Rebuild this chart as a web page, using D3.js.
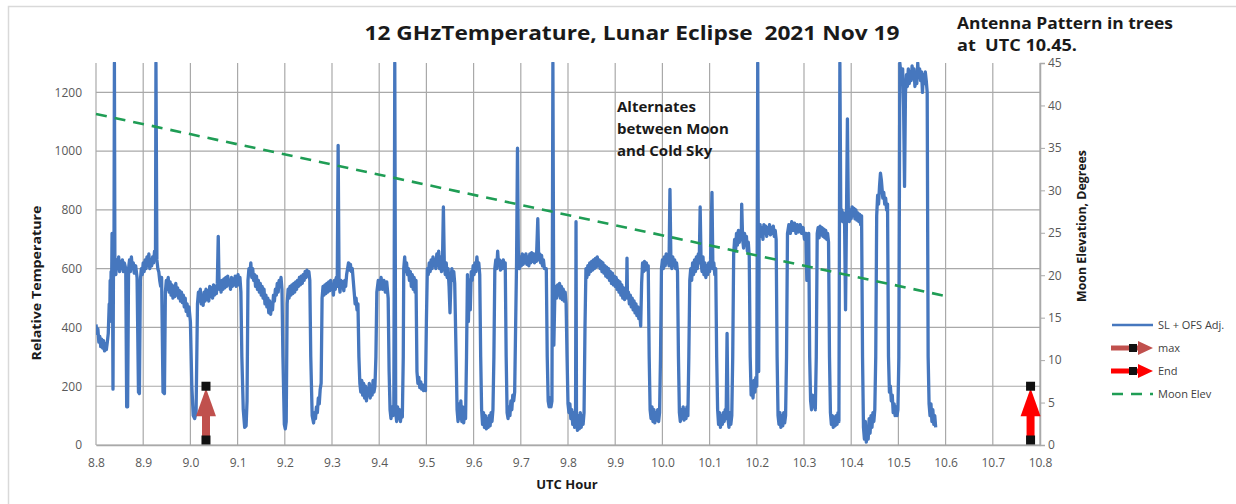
<!DOCTYPE html>
<html><head><meta charset="utf-8">
<script src="https://cdn.jsdelivr.net/npm/d3@7/dist/d3.min.js"></script>
<style>body{margin:0;background:#fff;}svg{display:block;}text{font-family:"Open Sans",sans-serif;white-space:pre;}</style>
</head><body>
<svg id="c" width="1236" height="504"></svg>
<script>
// ---------- data ----------
const xTicks = [8.8,8.9,9.0,9.1,9.2,9.3,9.4,9.5,9.6,9.7,9.8,9.9,10.0,10.1,10.2,10.3,10.4,10.5,10.6,10.7,10.8];
const yTicks = [0,200,400,600,800,1000,1200];
const y2Ticks = [0,5,10,15,20,25,30,35,40,45];
const moonT = [8.8, 10.6];
const moonElev = [39.0, 17.55];
const arrowNames = ["max","End"];
const arrowT = [9.033, 10.78];
const arrowFrom = [17, 17];
const arrowTo = [200, 200];
const signal = [
[8.800,410],[8.802,380],[8.804,395],[8.806,350],[8.808,370],[8.810,335],[8.812,360],[8.814,330],[8.816,355],[8.818,320],[8.820,345],[8.822,325],[8.824,350],[8.826,380],[8.828,480],[8.829,420],[8.830,560],[8.831,480],[8.832,590],[8.833,530],[8.834,720],[8.835,560],[8.836,190],[8.837,600],[8.838,580],[8.839,1300],[8.840,620],[8.842,580],[8.844,630],[8.846,600],[8.848,640],[8.850,590],[8.852,625],[8.854,600],[8.856,630],[8.858,590],[8.860,620],[8.863,600],[8.865,130],[8.867,130],[8.869,600],[8.871,630],[8.873,590],[8.875,640],[8.877,600],[8.879,620],[8.881,585],[8.884,610],[8.887,570],[8.890,180],[8.892,175],[8.894,560],[8.896,600],[8.898,580],[8.900,620],[8.902,590],[8.904,630],[8.906,600],[8.908,640],[8.910,610],[8.912,650],[8.914,600],[8.916,630],[8.918,610],[8.920,640],[8.922,620],[8.924,660],[8.926,640],[8.927,1300],[8.929,630],[8.931,600],[8.933,590],[8.935,560],[8.937,540],[8.939,570],[8.942,180],[8.945,175],
[8.947,520],[8.949,560],[8.951,530],[8.953,570],[8.955,520],[8.957,555],[8.959,510],[8.961,545],[8.963,500],[8.965,540],[8.967,505],[8.969,550],[8.971,510],[8.973,535],[8.975,500],[8.977,525],[8.979,490],[8.981,520],[8.983,485],[8.985,510],[8.987,470],[8.989,500],[8.991,455],[8.993,480],[8.995,440],[8.997,470],[9.000,420],[9.003,200],[9.006,100],[9.009,90],[9.012,110],[9.015,480],
[9.017,520],[9.019,490],[9.021,530],[9.023,480],[9.025,510],[9.027,475],[9.029,520],[9.031,490],[9.033,530],[9.035,495],[9.037,525],[9.039,490],[9.041,540],[9.043,505],[9.045,535],[9.047,500],[9.049,545],[9.051,510],[9.053,540],[9.055,515],[9.057,550],[9.059,710],[9.061,530],[9.063,555],[9.065,520],[9.067,560],[9.069,530],[9.071,565],[9.073,535],[9.075,570],[9.077,540],[9.079,575],[9.081,545],[9.083,560],[9.085,530],[9.087,570],[9.089,540],[9.091,565],[9.093,545],[9.095,575],[9.097,540],[9.099,560],[9.101,580],[9.103,545],[9.105,570],[9.107,520],[9.109,300],[9.112,120],[9.115,60],[9.118,65],[9.120,150],
[9.122,560],[9.124,600],[9.126,580],[9.128,620],[9.130,570],[9.132,600],[9.134,560],[9.136,580],[9.138,540],[9.140,575],[9.142,530],[9.144,560],[9.146,520],[9.148,550],[9.150,510],[9.152,540],[9.154,500],[9.156,530],[9.158,480],[9.160,510],[9.162,470],[9.164,500],[9.166,450],[9.168,490],[9.170,445],[9.172,480],[9.174,460],[9.176,510],[9.178,490],[9.180,530],[9.182,510],[9.184,550],[9.186,520],[9.188,560],[9.190,540],[9.192,570],[9.194,530],[9.196,300],[9.199,70],[9.201,55],[9.203,80],
[9.205,480],[9.207,530],[9.209,500],[9.211,540],[9.213,510],[9.215,545],[9.217,515],[9.219,550],[9.221,520],[9.223,555],[9.225,530],[9.227,560],[9.229,540],[9.231,570],[9.233,545],[9.235,575],[9.237,550],[9.239,580],[9.241,560],[9.243,590],[9.245,570],[9.247,595],[9.249,575],[9.251,590],[9.253,560],[9.255,300],[9.258,100],[9.261,75],[9.263,110],[9.265,90],[9.267,130],[9.269,110],[9.271,160],[9.273,140],[9.275,190],[9.277,210],
[9.279,500],[9.281,540],[9.283,510],[9.285,545],[9.287,515],[9.289,550],[9.291,520],[9.293,555],[9.295,525],[9.297,560],[9.299,530],[9.301,545],[9.303,510],[9.305,560],[9.307,530],[9.309,570],[9.311,540],[9.313,1020],[9.315,550],[9.317,520],[9.319,560],[9.321,535],[9.323,555],[9.325,525],[9.327,560],[9.329,540],[9.331,580],[9.333,600],[9.335,620],[9.337,595],[9.339,615],[9.341,590],[9.343,600],[9.345,560],[9.347,520],[9.349,480],[9.351,500],[9.353,460],[9.355,480],[9.357,300],
[9.359,210],[9.361,180],[9.363,220],[9.365,170],[9.367,210],[9.369,160],[9.371,200],[9.373,150],[9.375,190],[9.377,170],[9.379,210],[9.381,160],[9.383,200],[9.385,170],[9.387,220],[9.389,180],[9.391,200],[9.393,300],
[9.395,520],[9.398,560],[9.401,530],[9.404,570],[9.407,530],[9.410,560],[9.413,520],[9.416,555],[9.419,500],[9.421,250],[9.423,120],[9.425,90],[9.427,130],[9.429,100],[9.431,120],[9.433,1300],[9.435,110],[9.437,80],[9.439,130],[9.441,90],[9.443,120],[9.445,80],[9.447,110],[9.449,95],[9.451,300],
[9.452,600],[9.454,640],[9.456,590],[9.458,620],[9.460,580],[9.462,600],[9.464,560],[9.466,590],[9.468,540],[9.470,580],[9.472,530],[9.474,570],[9.476,520],[9.478,560],[9.480,250],[9.482,210],[9.484,230],[9.486,195],[9.488,215],[9.490,190],[9.492,205],[9.494,185],[9.496,200],[9.498,185],[9.500,420],
[9.502,600],[9.504,580],[9.506,620],[9.508,590],[9.510,630],[9.512,600],[9.514,640],[9.516,610],[9.518,630],[9.520,600],[9.522,650],[9.524,610],[9.526,660],[9.528,600],[9.530,640],[9.532,590],[9.534,620],[9.536,810],[9.538,610],[9.540,580],[9.542,620],[9.544,570],[9.546,600],[9.548,540],[9.550,450],[9.552,560],[9.554,600],[9.556,560],[9.558,590],[9.560,550],[9.563,300],
[9.565,120],[9.567,80],[9.569,140],[9.571,90],[9.573,150],[9.575,80],[9.577,130],[9.579,75],[9.581,120],[9.583,90],[9.585,300],[9.587,580],[9.589,420],[9.591,560],[9.593,460],[9.595,590],[9.597,560],[9.599,610],[9.601,580],[9.603,620],[9.605,590],[9.607,640],[9.609,600],[9.611,620],[9.613,580],[9.615,300],
[9.617,120],[9.619,70],[9.621,110],[9.623,60],[9.625,100],[9.627,55],[9.629,90],[9.631,60],[9.633,100],[9.635,65],[9.637,110],[9.639,80],[9.641,120],[9.643,300],[9.645,600],[9.647,630],[9.649,600],[9.651,660],[9.653,610],[9.655,630],[9.657,595],[9.659,625],[9.661,600],[9.663,630],[9.665,605],[9.667,620],[9.669,300],
[9.671,110],[9.673,90],[9.675,130],[9.677,100],[9.679,150],[9.681,120],[9.683,170],[9.685,150],[9.687,180],[9.689,400],[9.691,620],[9.693,1010],[9.695,620],[9.697,600],[9.699,640],[9.701,610],[9.703,650],[9.705,615],[9.707,645],[9.709,620],[9.711,650],[9.713,615],[9.715,640],[9.717,610],[9.719,650],[9.721,620],[9.723,655],[9.725,625],[9.727,650],[9.729,620],[9.731,650],[9.733,625],[9.736,770],[9.738,630],[9.740,650],[9.742,620],[9.744,645],[9.746,610],[9.748,630],[9.750,600],[9.754,600],[9.756,300],
[9.758,150],[9.760,130],[9.762,160],[9.764,130],[9.766,150],[9.768,1300],[9.770,340],[9.772,500],[9.774,540],[9.776,500],[9.778,545],[9.780,510],[9.782,550],[9.784,500],[9.786,540],[9.788,495],[9.790,530],[9.792,490],[9.794,520],[9.796,480],[9.798,300],
[9.800,140],[9.802,110],[9.804,140],[9.806,90],[9.808,120],[9.810,70],[9.812,110],[9.814,60],[9.816,100],[9.817,760],[9.818,90],[9.820,50],[9.822,100],[9.824,55],[9.826,110],[9.828,60],[9.830,100],[9.832,70],[9.834,110],[9.836,400],
[9.838,600],[9.840,570],[9.842,610],[9.844,580],[9.846,620],[9.848,590],[9.850,625],[9.852,595],[9.854,630],[9.856,600],[9.858,635],[9.860,605],[9.862,640],[9.864,610],[9.866,630],[9.868,600],[9.870,625],[9.872,590],[9.874,620],[9.876,585],[9.878,610],[9.880,575],[9.882,605],[9.884,570],[9.886,600],[9.888,560],[9.890,590],[9.892,550],[9.894,585],[9.896,545],[9.898,575],[9.900,540],[9.902,570],[9.904,530],[9.906,560],[9.908,520],[9.910,555],[9.912,510],[9.914,545],[9.916,500],[9.918,535],[9.920,495],[9.922,530],[9.924,510],[9.925,636],[9.926,500],[9.928,520],[9.930,480],[9.932,510],[9.934,470],[9.936,500],[9.938,460],[9.940,490],[9.942,450],[9.944,480],[9.946,440],[9.948,470],[9.950,430],[9.952,450],[9.954,405],
[9.956,550],[9.958,620],[9.960,590],[9.962,625],[9.964,595],[9.966,620],[9.968,600],[9.970,610],[9.972,300],[9.974,120],[9.976,90],[9.978,130],[9.980,80],[9.982,120],[9.984,75],[9.986,110],[9.988,85],[9.990,120],[9.992,80],[9.994,110],[9.996,300],
[9.998,600],[10.000,630],[10.002,600],[10.004,640],[10.006,610],[10.008,650],[10.010,620],[10.012,640],[10.014,610],[10.016,870],[10.018,630],[10.020,600],[10.022,640],[10.024,610],[10.026,630],[10.028,600],[10.030,620],[10.032,590],[10.034,300],
[10.036,110],[10.038,80],[10.040,120],[10.042,90],[10.044,130],[10.046,85],[10.048,120],[10.050,90],[10.052,130],[10.054,100],[10.056,300],
[10.058,560],[10.060,600],[10.062,560],[10.064,620],[10.066,580],[10.068,630],[10.070,590],[10.072,640],[10.074,600],[10.076,650],[10.078,620],[10.080,810],[10.082,620],[10.084,590],[10.086,640],[10.088,580],[10.090,620],[10.092,570],[10.094,610],[10.096,580],[10.098,620],[10.100,590],[10.102,630],[10.105,860],[10.107,600],[10.109,620],[10.111,580],[10.113,600],[10.115,300],
[10.117,120],[10.119,70],[10.121,110],[10.123,60],[10.125,100],[10.127,70],[10.129,110],[10.131,80],[10.133,120],[10.135,90],[10.137,380],[10.139,90],[10.141,60],[10.143,110],[10.145,70],[10.147,100],[10.149,300],
[10.151,650],[10.153,700],[10.155,660],[10.157,720],[10.159,680],[10.161,730],[10.163,690],[10.165,720],[10.167,700],[10.168,820],[10.170,700],[10.172,670],[10.174,720],[10.176,680],[10.178,710],[10.180,660],[10.182,690],[10.184,640],[10.186,300],
[10.188,170],[10.190,210],[10.192,160],[10.194,220],[10.196,180],[10.198,230],[10.200,200],[10.202,1300],[10.204,250],[10.205,720],[10.207,750],[10.209,710],[10.211,740],[10.213,700],[10.215,750],[10.217,720],[10.219,745],[10.221,710],[10.223,740],[10.225,720],[10.227,750],[10.229,715],[10.231,740],[10.233,720],[10.235,745],[10.237,710],[10.239,730],[10.241,700],[10.243,300],
[10.245,100],[10.247,70],[10.249,110],[10.251,60],[10.253,100],[10.255,65],[10.257,110],[10.259,75],[10.261,100],[10.263,300],
[10.265,720],[10.268,750],[10.271,720],[10.274,760],[10.277,730],[10.280,755],[10.283,720],[10.286,750],[10.289,725],[10.292,750],[10.295,720],[10.298,740],[10.301,700],[10.304,720],[10.306,560],[10.308,700],[10.310,720],[10.312,300],
[10.314,150],[10.316,120],[10.318,170],[10.320,130],[10.322,160],[10.324,120],[10.326,300],
[10.328,720],[10.330,740],[10.332,705],[10.334,745],[10.336,715],[10.338,740],[10.340,710],[10.342,735],[10.344,705],[10.346,730],[10.348,700],[10.350,720],[10.352,690],[10.354,300],
[10.356,110],[10.358,70],[10.360,100],[10.362,60],[10.364,95],[10.366,65],[10.368,100],[10.370,70],[10.372,110],[10.374,80],[10.376,1300],
[10.378,780],[10.380,800],[10.382,760],[10.384,790],[10.386,750],[10.388,460],[10.390,780],[10.392,1110],[10.394,790],[10.396,760],[10.398,800],[10.400,770],[10.402,810],[10.404,780],[10.406,805],[10.408,770],[10.410,800],[10.412,765],[10.414,790],[10.416,760],[10.418,785],[10.420,750],[10.422,780],[10.424,300],
[10.426,60],[10.428,20],[10.430,80],[10.432,10],[10.434,60],[10.436,20],[10.438,90],[10.440,40],[10.442,100],[10.444,60],[10.446,110],[10.448,80],[10.450,120],[10.452,300],
[10.454,780],[10.456,850],[10.458,820],[10.460,880],[10.462,925],[10.464,900],[10.465,880],[10.467,840],[10.469,860],[10.471,820],[10.473,840],[10.475,800],[10.477,820],[10.479,300],
[10.481,180],[10.483,200],[10.485,150],[10.487,170],[10.489,110],[10.491,140],[10.493,100],[10.495,130],[10.497,100],[10.499,120],[10.501,300],
[10.503,1300],[10.505,1270],[10.507,1230],[10.509,1280],[10.511,1150],[10.513,880],[10.515,1200],[10.517,1260],[10.519,1220],[10.521,1280],[10.523,1230],[10.525,1270],[10.527,1240],[10.529,1290],[10.531,1250],[10.533,1280],[10.535,1220],[10.537,1270],[10.539,1230],[10.541,1300],[10.543,1250],[10.545,1280],[10.547,1240],[10.549,1270],[10.551,1200],[10.553,1260],[10.555,1230],[10.557,1270],[10.559,1240],[10.561,1200],[10.563,300],
[10.565,140],[10.567,100],[10.569,140],[10.571,80],[10.573,120],[10.575,70],[10.577,100],[10.579,60]
];

// ---------- layout ----------
const svg = d3.select("#c");
const L = 96, R = 1040, T = 63, B = 445;
const x = d3.scaleLinear().domain([8.8, 10.8]).range([L, R]);
const y = d3.scaleLinear().domain([0, 1300]).range([B, T]);
const y2 = d3.scaleLinear().domain([0, 45]).range([B, T]);
const gridC = "#a9a9a9", labC = "#595959";

// outer border
svg.append("rect").attr("x", 8.5).attr("y", 6.5).attr("width", 1240).attr("height", 510)
  .attr("fill", "none").attr("stroke", "#d9d9d9").attr("stroke-width", 1.5);

// gridlines
svg.append("g").selectAll("line").data(yTicks).join("line")
  .attr("x1", L).attr("x2", R).attr("y1", d => y(d)).attr("y2", d => y(d))
  .attr("stroke", gridC).attr("stroke-width", 1.2);
svg.append("g").selectAll("line").data(xTicks).join("line")
  .attr("x1", d => x(d)).attr("x2", d => x(d)).attr("y1", T).attr("y2", B)
  .attr("stroke", gridC).attr("stroke-width", 1.2);

// axes
const xAx = svg.append("g").attr("transform", `translate(0,${B})`)
  .call(d3.axisBottom(x).tickValues(xTicks).tickFormat(d3.format(".1f")).tickSize(0).tickPadding(13));
xAx.select(".domain").attr("stroke", gridC).attr("stroke-width", 1.5);
xAx.selectAll("text").attr("fill", labC).style("font-size", "12px").style("font-family", "Open Sans");

const yAx = svg.append("g").attr("transform", `translate(${L},0)`)
  .call(d3.axisLeft(y).tickValues(yTicks).tickFormat(d3.format("d")).tickSize(0).tickPadding(14));
yAx.select(".domain").remove();
yAx.selectAll("text").attr("fill", labC).style("font-size", "12px").style("font-family", "Open Sans");

const y2Ax = svg.append("g").attr("transform", `translate(${R},0)`)
  .call(d3.axisRight(y2).tickValues(y2Ticks).tickSize(5).tickPadding(3));
y2Ax.select(".domain").attr("stroke", gridC).attr("stroke-width", 1.5);
y2Ax.selectAll(".tick line").attr("stroke", gridC);
y2Ax.selectAll("text").attr("fill", labC).style("font-size", "12px").style("font-family", "Open Sans");

// clip
svg.append("clipPath").attr("id", "pc").append("rect")
  .attr("x", L).attr("y", T - 1).attr("width", R - L).attr("height", B - T + 2);

// signal line
const line = d3.line().x(d => x(d[0])).y(d => y(d[1]));
svg.append("path").datum(signal).attr("clip-path", "url(#pc)")
  .attr("d", line).attr("fill", "none").attr("stroke", "#4677be")
  .attr("stroke-width", 3.3).attr("stroke-linejoin", "round");

// moon elevation
const moonData = moonT.map((t, i) => [t, moonElev[i]]);
svg.append("path").datum(moonData)
  .attr("d", d3.line().x(d => x(d[0])).y(d => y2(d[1])))
  .attr("fill", "none").attr("stroke", "#1f9d55").attr("stroke-width", 2.6)
  .attr("stroke-dasharray", "11,8");

// arrows
const arrowCols = ["#c0504d", "#ff0000"];
arrowT.forEach((t, i) => {
  const g = svg.append("g");
  const cx = x(t), yb = y(arrowFrom[i]), yt = y(arrowTo[i]);
  const headH = 30, headW = 20;
  g.append("line").attr("x1", cx).attr("x2", cx).attr("y1", yb).attr("y2", yt + headH - 2)
    .attr("stroke", arrowCols[i]).attr("stroke-width", 8);
  g.append("path").attr("d", `M${cx - headW/2},${yt + headH} L${cx + headW/2},${yt + headH} L${cx},${yt + 2} Z`)
    .attr("fill", arrowCols[i]);
  [arrowFrom[i], arrowTo[i]].forEach(v => {
    g.append("rect").attr("x", cx - 4.5).attr("y", y(v) - 4.5).attr("width", 9).attr("height", 9).attr("fill", "#111");
  });
});

// titles
svg.append("text").attr("x", 632).attr("y", 40).attr("text-anchor", "middle")
  .attr("xml:space", "preserve")
  .style("font-weight", "bold").style("font-size", "20px").attr("fill", "#1a1a1a")
  .attr("textLength", 535).attr("lengthAdjust", "spacingAndGlyphs")
  .text("12 GHzTemperature, Lunar Eclipse  2021 Nov 19");
svg.append("text").attr("x", 957).attr("y", 29)
  .style("font-weight", "bold").style("font-size", "15.5px").attr("fill", "#1a1a1a")
  .attr("textLength", 216).attr("lengthAdjust", "spacingAndGlyphs")
  .text("Antenna Pattern in trees");
svg.append("text").attr("x", 957).attr("y", 51)
  .attr("xml:space", "preserve")
  .style("font-weight", "bold").style("font-size", "15.5px").attr("fill", "#1a1a1a")
  .attr("textLength", 120).attr("lengthAdjust", "spacingAndGlyphs")
  .text("at  UTC 10.45.");

const note = ["Alternates", "between Moon", "and Cold Sky"];
svg.append("g").selectAll("text").data(note).join("text")
  .attr("x", 617).attr("y", (d, i) => 112 + i * 22)
  .style("font-weight", "bold").style("font-size", "15px").attr("fill", "#1a1a1a")
  .text(d => d);

svg.append("text").attr("transform", `translate(41,283) rotate(-90)`).attr("text-anchor", "middle")
  .style("font-weight", "bold").style("font-size", "12px").attr("fill", "#1a1a1a")
  .attr("textLength", 155).attr("lengthAdjust", "spacingAndGlyphs")
  .text("Relative Temperature");
svg.append("text").attr("transform", `translate(1086,226) rotate(-90)`).attr("text-anchor", "middle")
  .style("font-weight", "bold").style("font-size", "12px").attr("fill", "#1a1a1a")
  .attr("textLength", 152).attr("lengthAdjust", "spacingAndGlyphs")
  .text("Moon Elevation, Degrees");
svg.append("text").attr("x", 567).attr("y", 489).attr("text-anchor", "middle")
  .style("font-weight", "bold").style("font-size", "13px").attr("fill", "#1a1a1a")
  .text("UTC Hour");

// legend
const lg = svg.append("g");
const legNames = ["SL + OFS Adj.", "max", "End", "Moon Elev"];
const legY = [325, 348, 371, 394];
lg.append("line").attr("x1", 1112).attr("x2", 1153).attr("y1", legY[0]).attr("y2", legY[0])
  .attr("stroke", "#4677be").attr("stroke-width", 2.6);
[1, 2].forEach(k => {
  const c = arrowCols[k - 1], yy = legY[k];
  lg.append("line").attr("x1", 1111).attr("x2", 1140).attr("y1", yy).attr("y2", yy)
    .attr("stroke", c).attr("stroke-width", 5);
  lg.append("path").attr("d", `M1138,${yy - 7} L1138,${yy + 7} L1153,${yy} Z`).attr("fill", c);
  lg.append("rect").attr("x", 1129).attr("y", yy - 4).attr("width", 8).attr("height", 8).attr("fill", "#111");
});
lg.append("line").attr("x1", 1112).attr("x2", 1153).attr("y1", legY[3]).attr("y2", legY[3])
  .attr("stroke", "#1f9d55").attr("stroke-width", 2.6).attr("stroke-dasharray", "11,8");
lg.selectAll("text").data(legNames).join("text")
  .attr("x", 1158).attr("y", (d, i) => legY[i] + 4)
  .style("font-size", "11px").attr("fill", "#404040").text(d => d);
</script>
</body></html>
